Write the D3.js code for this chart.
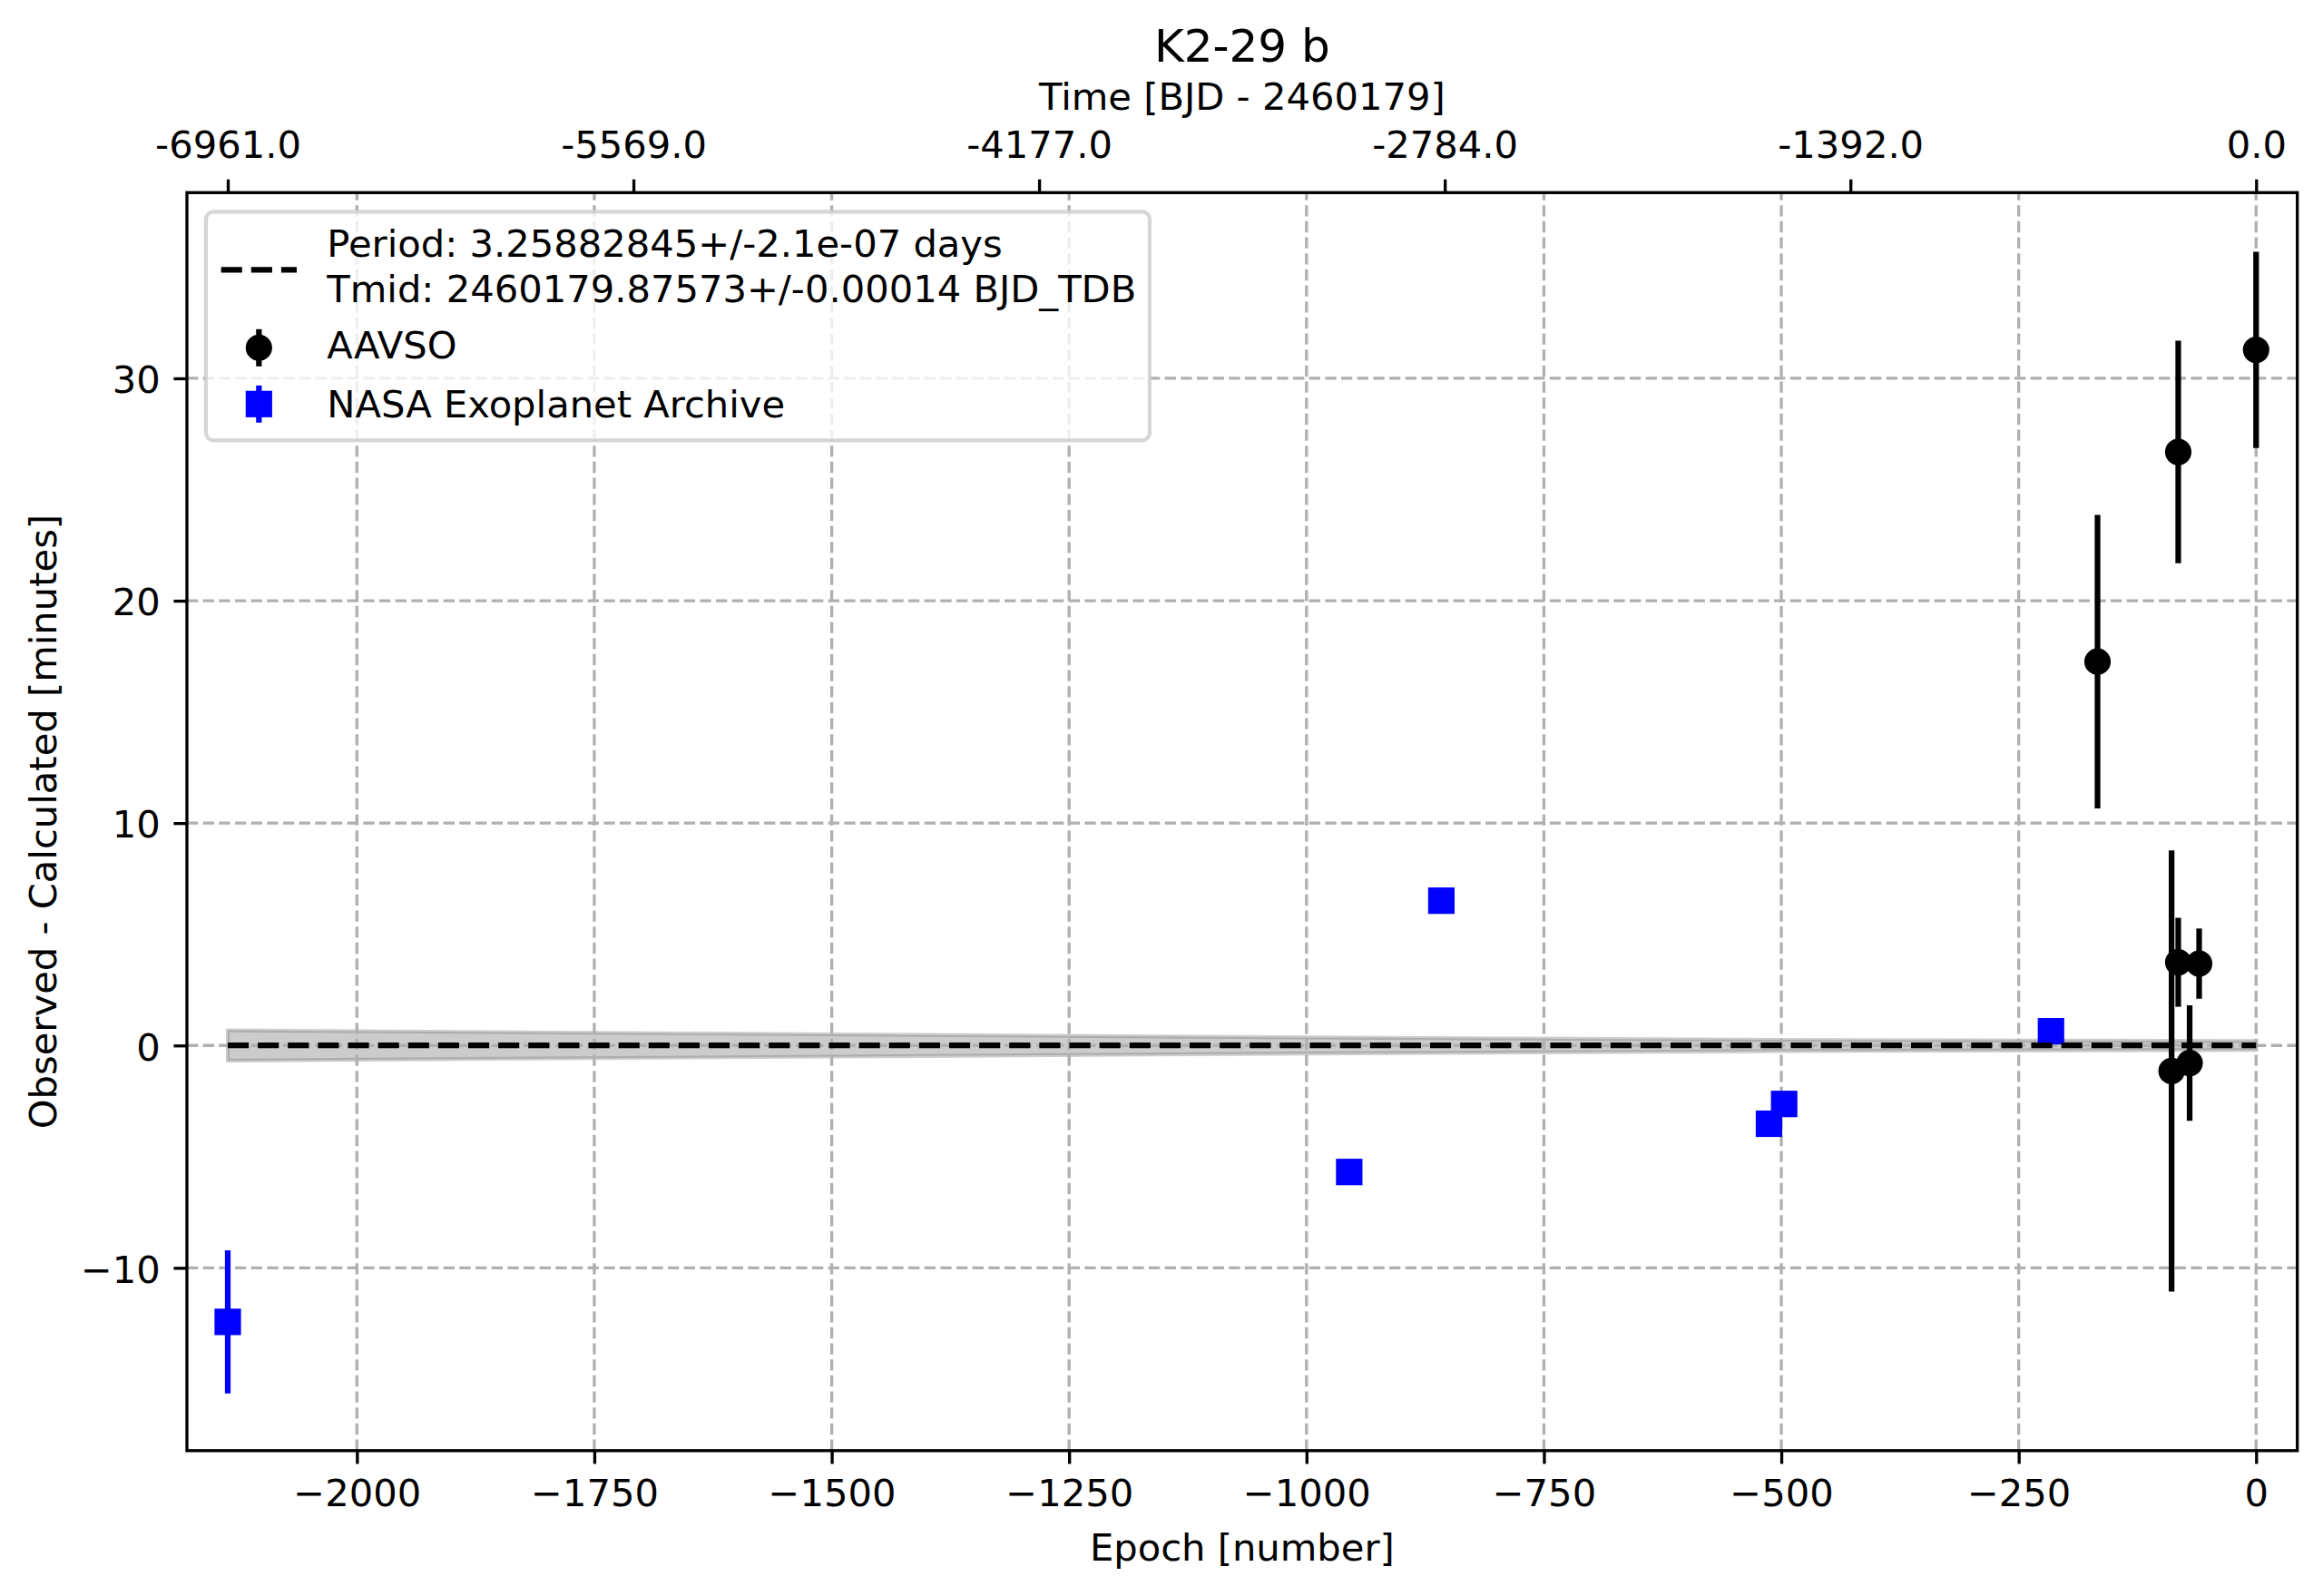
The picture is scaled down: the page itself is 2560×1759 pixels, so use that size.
<!DOCTYPE html>
<html lang="en">
<head>
  <meta charset="UTF-8">
  <title>K2-29 b</title>
  <script src="https://d3js.org/d3.v7.min.js"></script>
  <style>
    * { margin: 0; padding: 0; box-sizing: border-box; }
    body { background: #fff; }
    svg text { font-family: "DejaVu Sans", sans-serif; fill: #000; }
  </style>
</head>
<body>
  <div id="chart"></div>

  <script>
    // AAVSO observations: epoch, O-C (minutes), 1-sigma error
    const aavsoEpoch = [0, -82, -167, -82, -60, -89, -70];
    const aavsoOC    = [31.28, 26.69, 17.26, 3.74, 3.68, -1.15, -0.79];
    const aavsoErr   = [4.41, 5.0, 6.6, 2.0, 1.58, 9.92, 2.6];

    // NASA Exoplanet Archive
    const nasaEpoch = [-2136, -955, -858, -513, -497, -216];
    const nasaOC    = [-12.43, -5.69, 6.51, -3.52, -2.63, 0.64];
    const nasaErr   = [3.22, 0.3, 0.3, 0.3, 0.3, 0.3];

    // ephemeris uncertainty band, half width in minutes
    const bandEpoch = [-2136, -1500, -1000, -500, 0];
    const bandHalf  = [0.68, 0.50, 0.36, 0.25, 0.20];

    const epochTicks = [-2000, -1750, -1500, -1250, -1000, -750, -500, -250, 0];
    const ocTicks = [-10, 0, 10, 20, 30];
    const timeTickEpochs = [-2136, -1708.8, -1281.6, -854.4, -427.2, 0];
    const timeTickLabels = ["-6961.0", "-5569.0", "-4177.0", "-2784.0", "-1392.0", "0.0"];

    const fitLabel = ["Period: 3.25882845+/-2.1e-07 days", "Tmid: 2460179.87573+/-0.00014 BJD_TDB"];

    // 300 dpi: 1pt = 4.1667px
    const pt = 300 / 72;
    const fs = 10 * pt;

    const W = 2560, H = 1759;
    const margin = {top: 212.3, right: 28.3, bottom: 160.2, left: 206},
          width = W - margin.left - margin.right,
          height = H - margin.top - margin.bottom;

    const root = d3.select("#chart")
                   .append("svg")
                   .attr("width", W)
                   .attr("height", H);

    const svg = root.append("g")
                    .attr("transform", `translate(${margin.left},${margin.top})`);

    const x = d3.scaleLinear().domain([-2179, 43.4]).range([0, width]);
    const y = d3.scaleLinear().domain([-18.22, 38.35]).range([height, 0]);

    const aavso = aavsoEpoch.map((e, i) => ({e, v: aavsoOC[i], err: aavsoErr[i]}));
    const nasa = nasaEpoch.map((e, i) => ({e, v: nasaOC[i], err: nasaErr[i]}));
    const band = bandEpoch.map((e, i) => ({e, h: bandHalf[i]}));

    // uncertainty band
    svg.append("path")
       .datum(band)
       .attr("d", d3.area()
                    .x(d => x(d.e))
                    .y0(d => y(-d.h))
                    .y1(d => y(d.h)))
       .attr("fill", "gray")
       .attr("fill-opacity", 0.4)
       .attr("stroke", "gray")
       .attr("stroke-opacity", 0.4)
       .attr("stroke-width", 1 * pt);

    // grid
    const grid = svg.append("g")
                    .attr("stroke", "#b0b0b0")
                    .attr("stroke-width", 0.8 * pt)
                    .attr("stroke-dasharray", `${2.96 * pt},${1.28 * pt}`);

    grid.selectAll(".vgrid")
        .data(epochTicks)
        .enter()
        .append("line")
        .attr("x1", d => x(d)).attr("x2", d => x(d))
        .attr("y1", height).attr("y2", 0);

    grid.selectAll(".hgrid")
        .data(ocTicks)
        .enter()
        .append("line")
        .attr("x1", 0).attr("x2", width)
        .attr("y1", d => y(d)).attr("y2", d => y(d));

    // error bars + markers
    const ms = 6 * pt, mew = 1 * pt, elw = 1.5 * pt;

    function drawErrors(data, color, shape) {
      const g = svg.append("g");
      g.selectAll("line")
       .data(data)
       .enter()
       .append("line")
       .attr("x1", d => x(d.e)).attr("x2", d => x(d.e))
       .attr("y1", d => y(d.v - d.err)).attr("y2", d => y(d.v + d.err))
       .attr("stroke", color)
       .attr("stroke-width", elw);

      if (shape === "circle") {
        g.selectAll("circle")
         .data(data)
         .enter()
         .append("circle")
         .attr("cx", d => x(d.e))
         .attr("cy", d => y(d.v))
         .attr("r", ms / 2)
         .attr("fill", color)
         .attr("stroke", color)
         .attr("stroke-width", mew);
      } else {
        g.selectAll("rect")
         .data(data)
         .enter()
         .append("rect")
         .attr("x", d => x(d.e) - ms / 2)
         .attr("y", d => y(d.v) - ms / 2)
         .attr("width", ms)
         .attr("height", ms)
         .attr("fill", color)
         .attr("stroke", color)
         .attr("stroke-width", mew);
      }
    }

    drawErrors(aavso, "#000", "circle");
    drawErrors(nasa, "#0000ff", "square");

    // linear ephemeris
    svg.append("line")
       .attr("x1", x(bandEpoch[0]))
       .attr("x2", x(bandEpoch[bandEpoch.length - 1]))
       .attr("y1", y(0)).attr("y2", y(0))
       .attr("stroke", "#000")
       .attr("stroke-width", 1.5 * pt)
       .attr("stroke-dasharray", `${5.55 * pt},${2.4 * pt}`);

    // axes
    function styleAxis(g, dy) {
      g.select(".domain").remove();
      g.selectAll(".tick line")
       .attr("stroke", "#000")
       .attr("stroke-width", 0.8 * pt);
      g.selectAll(".tick text")
       .attr("font-size", fs)
       .attr("font-family", "DejaVu Sans")
       .attr("fill", "#000")
       .attr("dy", dy);
    }

    svg.append("g")
       .attr("transform", `translate(0,${height})`)
       .call(d3.axisBottom(x)
               .tickValues(epochTicks)
               .tickFormat(d3.format("d"))
               .tickSize(3.5 * pt)
               .tickPadding(3.5 * pt))
       .call(g => styleAxis(g, "0.76em"));

    svg.append("g")
       .call(d3.axisLeft(y)
               .tickValues(ocTicks)
               .tickFormat(d3.format("d"))
               .tickSize(3.5 * pt)
               .tickPadding(3.5 * pt))
       .call(g => styleAxis(g, "0.38em"));

    svg.append("g")
       .call(d3.axisTop(x)
               .tickValues(timeTickEpochs)
               .tickFormat((d, i) => timeTickLabels[i])
               .tickSize(3.5 * pt)
               .tickPadding(3.5 * pt))
       .call(g => styleAxis(g, "-0.23em"));

    // spines
    svg.append("rect")
       .attr("width", width)
       .attr("height", height)
       .attr("fill", "none")
       .attr("stroke", "#000")
       .attr("stroke-width", 0.8 * pt);

    // labels
    root.append("text")
        .attr("x", margin.left + width / 2)
        .attr("y", 68)
        .attr("text-anchor", "middle")
        .attr("font-size", 12 * pt)
        .text("K2-29 b");

    root.append("text")
        .attr("x", margin.left + width / 2)
        .attr("y", 121)
        .attr("text-anchor", "middle")
        .attr("font-size", fs)
        .text("Time [BJD - 2460179]");

    root.append("text")
        .attr("x", margin.left + width / 2)
        .attr("y", 1720)
        .attr("text-anchor", "middle")
        .attr("font-size", fs)
        .text("Epoch [number]");

    root.append("text")
        .attr("transform", `translate(62,${margin.top + height / 2}) rotate(-90)`)
        .attr("text-anchor", "middle")
        .attr("font-size", fs)
        .text("Observed - Calculated [minutes]");

    // legend
    const legend = svg.append("g")
                      .attr("transform", "translate(21,21)");

    legend.append("rect")
          .attr("width", 1040)
          .attr("height", 252)
          .attr("rx", 0.2 * fs)
          .attr("fill", "#fff")
          .attr("fill-opacity", 0.8)
          .attr("stroke", "#cccccc")
          .attr("stroke-opacity", 0.8)
          .attr("stroke-width", 1 * pt);

    const hx0 = 0.4 * fs, hx1 = hx0 + 2 * fs, hcx = (hx0 + hx1) / 2, tx = hx1 + 0.8 * fs;

    legend.append("line")
          .attr("x1", hx0).attr("x2", hx1)
          .attr("y1", 64).attr("y2", 64)
          .attr("stroke", "#000")
          .attr("stroke-width", 1.5 * pt)
          .attr("stroke-dasharray", `${5.55 * pt},${2.4 * pt}`);

    legend.selectAll(".fitlabel")
          .data(fitLabel)
          .enter()
          .append("text")
          .attr("x", tx)
          .attr("y", (d, i) => 50 + i * 50)
          .attr("font-size", fs)
          .text(d => d);

    // AAVSO handle
    legend.append("line")
          .attr("x1", hcx).attr("x2", hcx)
          .attr("y1", 150 - 20.5).attr("y2", 150 + 20.5)
          .attr("stroke", "#000")
          .attr("stroke-width", elw);
    legend.append("circle")
          .attr("cx", hcx).attr("cy", 150)
          .attr("r", ms / 2)
          .attr("fill", "#000")
          .attr("stroke", "#000")
          .attr("stroke-width", mew);
    legend.append("text")
          .attr("x", tx).attr("y", 162)
          .attr("font-size", fs)
          .text("AAVSO");

    // NASA handle
    legend.append("line")
          .attr("x1", hcx).attr("x2", hcx)
          .attr("y1", 212 - 20.5).attr("y2", 212 + 20.5)
          .attr("stroke", "#0000ff")
          .attr("stroke-width", elw);
    legend.append("rect")
          .attr("x", hcx - ms / 2).attr("y", 212 - ms / 2)
          .attr("width", ms).attr("height", ms)
          .attr("fill", "#0000ff")
          .attr("stroke", "#0000ff")
          .attr("stroke-width", mew);
    legend.append("text")
          .attr("x", tx).attr("y", 227)
          .attr("font-size", fs)
          .text("NASA Exoplanet Archive");
  </script>
</body>
</html>
